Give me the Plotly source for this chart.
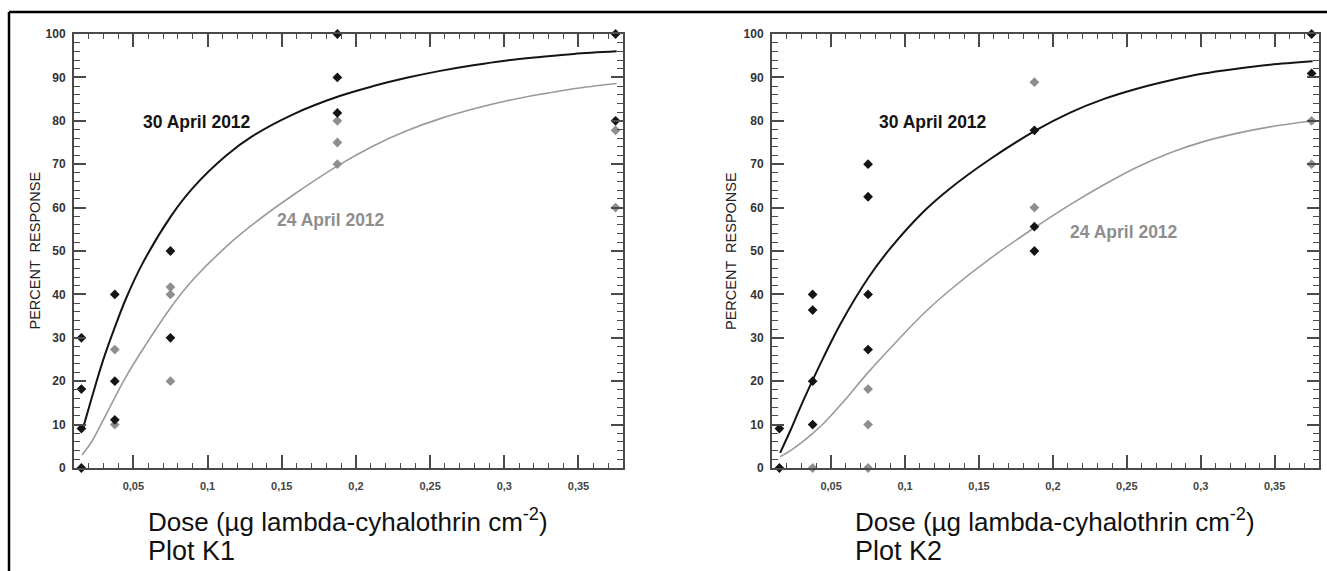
import plotly.graph_objects as go

W, H = 1327, 571

# ---------------- data ----------------
doses = [0.015, 0.0375, 0.075, 0.1875, 0.375]

# Plot K1 observed percent responses per dose
k1_30apr = {0.015: [30, 18.2, 9.1, 0], 0.0375: [40, 20, 11.1], 0.075: [50, 30],
            0.1875: [100, 90, 81.8], 0.375: [100, 80]}
k1_24apr = {0.015: [], 0.0375: [27.3, 10], 0.075: [41.7, 40, 20],
            0.1875: [80, 75, 70], 0.375: [77.8, 60]}
# Plot K2 observed percent responses per dose
k2_30apr = {0.015: [9.1, 0], 0.0375: [40, 36.4, 20, 10], 0.075: [70, 62.5, 40, 27.3],
            0.1875: [77.8, 55.6, 50], 0.375: [100, 90.9]}
k2_24apr = {0.015: [], 0.0375: [0], 0.075: [18.2, 10, 0],
            0.1875: [88.9, 60], 0.375: [80, 70]}

# fitted curves
curve_x = [0.0155, 0.0225, 0.0293, 0.0376, 0.045, 0.0563, 0.0755, 0.090, 0.1126,
           0.130, 0.1577, 0.189, 0.2117, 0.2342, 0.2568, 0.279, 0.3018, 0.3243,
           0.3468, 0.3757]
k1_30apr_fit = [8.5, 16.8, 24.5, 32.5, 39.0, 47.2, 58.1, 64.5, 72.0, 76.4, 81.5,
                85.7, 88.0, 89.9, 91.5, 92.8, 93.9, 94.7, 95.4, 96.0]
k1_24apr_fit = [3.0, 6.4, 10.8, 16.3, 21.0, 27.3, 37.1, 43.3, 51.0, 56.0, 62.9,
                69.9, 74.2, 77.7, 80.5, 82.7, 84.6, 86.1, 87.4, 88.6]
k2_30apr_fit = [3.5, 8.7, 14.1, 20.3, 25.6, 33.2, 44.0, 50.6, 59.1, 64.3, 71.2,
                77.9, 81.9, 85.0, 87.4, 89.3, 90.9, 92.0, 92.9, 93.7]
k2_24apr_fit = [2.6, 4.0, 5.7, 8.0, 10.3, 14.5, 22.2, 27.6, 35.6, 40.9, 48.3,
                55.7, 60.7, 65.2, 69.3, 72.6, 75.2, 77.1, 78.6, 80.0]

x_ticks_dtick = 0.05
y_ticks_dtick = 10

BLACK = "#141414"
GREY = "#8e8e8e"
FONT = "Liberation Sans, Arial, sans-serif"


def flat(d):
    xs, ys = [], []
    for k in doses:
        for v in d[k]:
            xs.append(k)
            ys.append(v)
    return xs, ys


fig = go.Figure()

panels = [
    ("x", "y", k1_30apr, k1_24apr, k1_30apr_fit, k1_24apr_fit),
    ("x2", "y2", k2_30apr, k2_24apr, k2_30apr_fit, k2_24apr_fit),
]
for xa, ya, blk, gry, blk_fit, gry_fit in panels:
    fig.add_trace(go.Scatter(x=curve_x, y=gry_fit, mode="lines", xaxis=xa, yaxis=ya,
                             line=dict(color="#9a9a9a", width=1.6, shape="spline",
                                       smoothing=1.0),
                             showlegend=False, hoverinfo="skip"))
    fig.add_trace(go.Scatter(x=curve_x, y=blk_fit, mode="lines", xaxis=xa, yaxis=ya,
                             line=dict(color=BLACK, width=2, shape="spline",
                                       smoothing=1.0),
                             showlegend=False, hoverinfo="skip"))
    gx, gy = flat(gry)
    fig.add_trace(go.Scatter(x=gx, y=gy, mode="markers", xaxis=xa, yaxis=ya,
                             marker=dict(symbol="diamond", size=7.5, color=GREY),
                             cliponaxis=False, showlegend=False))
    bx, by = flat(blk)
    fig.add_trace(go.Scatter(x=bx, y=by, mode="markers", xaxis=xa, yaxis=ya,
                             marker=dict(symbol="diamond", size=7.5, color=BLACK),
                             cliponaxis=False, showlegend=False))

AX = "#4a4a4a"
xcommon = dict(range=[0.01, 0.38], tickmode="linear", tick0=0, dtick=x_ticks_dtick,
               ticks="inside", ticklen=13, tickwidth=1.5, tickcolor=AX,
               showline=True, linecolor=AX, linewidth=2, mirror="allticks",
               showgrid=False, zeroline=False, ticklabelstandoff=7, automargin=False,
               tickfont=dict(family=FONT, size=11, color="#444444", weight="bold"),
               minor=dict(dtick=0.01, tick0=0, ticks="inside", ticklen=5,
                          tickwidth=1.2, tickcolor=AX, showgrid=False))
ycommon = dict(range=[0, 100], tickmode="linear", tick0=0, dtick=y_ticks_dtick,
               ticks="inside", ticklen=12, tickwidth=1.5, tickcolor=AX,
               showline=True, linecolor=AX, linewidth=2, mirror="allticks",
               showgrid=False, zeroline=False, ticklabelstandoff=4, automargin=False,
               tickfont=dict(family=FONT, size=12, color="#333333", weight="bold"),
               minor=dict(dtick=2, tick0=0, ticks="inside", ticklen=6,
                          tickwidth=1.2, tickcolor=AX, showgrid=False))

ydom = [1 - 468 / H, 1 - 34 / H]
fig.update_layout(
    width=W, height=H, autosize=False,
    margin=dict(l=0, r=0, t=0, b=0, pad=0, autoexpand=False),
    paper_bgcolor="white", plot_bgcolor="white",
    separators=", ",
    font=dict(family=FONT),
    xaxis=dict(domain=[74 / W, 623 / W], anchor="y", **xcommon),
    yaxis=dict(domain=ydom, anchor="x", **ycommon),
    xaxis2=dict(domain=[772 / W, 1319 / W], anchor="y2", **xcommon),
    yaxis2=dict(domain=ydom, anchor="x2", **ycommon),
)

ann = []
labels = [
    ("x", "y", 0.0926, 79.7, "30 April 2012", BLACK),
    ("x", "y", 0.183, 57.1, "24 April 2012", GREY),
    ("x2", "y2", 0.119, 79.7, "30 April 2012", BLACK),
    ("x2", "y2", 0.2483, 54.4, "24 April 2012", GREY),
]
for xr, yr, xv, yv, txt, col in labels:
    ann.append(dict(x=xv, y=yv, xref=xr, yref=yr, text=txt, showarrow=False,
                    xanchor="center", yanchor="middle",
                    font=dict(family=FONT, size=17.5, color=col, weight="bold")))

for xpix, ttl_x, plot_name in [(34.5, 146, "Plot K1"), (731, 853, "Plot K2")]:
    ann.append(dict(x=xpix / W, y=1 - 251 / H, xref="paper", yref="paper",
                    text="PERCENT  RESPONSE", textangle=-90, showarrow=False,
                    xanchor="center", yanchor="middle",
                    font=dict(family=FONT, size=14.5, color="#222222")))
    ann.append(dict(x=ttl_x / W, y=1 - 520 / H, xref="paper", yref="paper",
                    text="Dose (µg lambda-cyhalothrin cm<sup>-2</sup>)", showarrow=False,
                    xanchor="left", yanchor="middle",
                    font=dict(family=FONT, size=26, color="#111111")))
    ann.append(dict(x=ttl_x / W, y=1 - 551 / H, xref="paper", yref="paper",
                    text=plot_name, showarrow=False,
                    xanchor="left", yanchor="middle",
                    font=dict(family=FONT, size=27, color="#111111")))

fig.update_layout(annotations=ann)

# outer frame (top and left edges)
fig.update_layout(shapes=[
    dict(type="line", xref="paper", yref="paper", x0=9 / W, x1=1, y0=1 - 12 / H,
         y1=1 - 12 / H, line=dict(color="black", width=2.5)),
    dict(type="line", xref="paper", yref="paper", x0=9 / W, x1=9 / W, y0=0,
         y1=1 - 12 / H, line=dict(color="black", width=2.5)),
])

page_fix = ("document.documentElement.style.margin='0px';"
            "document.body.style.margin='0px';document.body.style.padding='0px';"
            "document.documentElement.style.overflow='hidden';"
            "document.body.style.overflow='hidden';")
fig.write_html("out.html", config={"displayModeBar": False}, post_script=page_fix)
